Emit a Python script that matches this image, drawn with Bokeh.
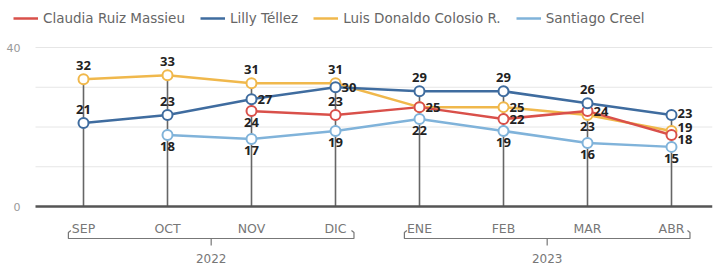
from bokeh.plotting import figure
from bokeh.models import Legend, LegendItem
from bokeh.core.properties import value
from bokeh.embed import file_html
from bokeh.resources import INLINE

# ---------------- data ----------------
months = ["SEP", "OCT", "NOV", "DIC", "ENE", "FEB", "MAR", "ABR"]
years = ["2022", "2023"]
year_spans = [(0, 3), (4, 7)]  # month index ranges per year

claudia = [None, None, 24, 23, 25, 22, 24, 18]
lilly = [21, 23, 27, 30, 29, 29, 26, 23]
colosio = [32, 33, 31, 31, 25, 25, 23, 19]
creel = [None, 18, 17, 19, 22, 19, 16, 15]

series_names = ["Claudia Ruiz Massieu", "Lilly Téllez", "Luis Donaldo Colosio R.", "Santiago Creel"]
y_ticks = [0, 10, 20, 30, 40]
y_tick_labels = ["0", "", "", "", "40"]

# ---------------- styles ----------------
colors = ["#d9504a", "#3f6c9f", "#f0b84c", "#80b3da"]
# label placement per point: 'a' above, 'b' below, 'r' right, None = no label
placements = [
    [None, None, "b", "a", "r", "r", "r", "r"],
    ["a", "a", "r", "r", "a", "a", "a", "r"],
    ["a", "a", "a", "a", None, "r", "b", "r"],
    [None, "b", "b", "b", "b", "b", "b", "b"],
]
# extra pixel nudges (series, index) -> dy in px (positive = up)
nudges = {(0, 7): -5, (2, 7): 3, (1, 7): 2}

PXX = 84.0      # px per month
PXY = 3.975     # px per unit
W, H = 720, 268
RIGHT = 8
X0 = 83         # pixel column of first month
GRID_LEFT = 35  # pixel column where grid starts
Y0 = 206        # pixel row of value 0 in figure
x_start = -X0 / PXX
x_end = x_start + (W - RIGHT) / PXX
x_grid = (GRID_LEFT - X0) / PXX
y_end = Y0 / PXY
y_start = -(H - Y0) / PXY

p = figure(width=W, height=H, output_backend="svg", toolbar_location=None,
           x_range=(x_start, x_end), y_range=(y_start, y_end),
           min_border_left=0, min_border_right=RIGHT, min_border_top=0,
           min_border_bottom=0)
p.outline_line_color = None
p.background_fill_color = "white"
p.xaxis.visible = False
p.yaxis.visible = False
p.xgrid.visible = False
p.ygrid.visible = False

# horizontal grid lines and y tick labels
gy = [t for t in y_ticks if t != 0]
p.segment(x0=[x_grid] * len(gy), y0=gy, x1=[x_end] * len(gy), y1=gy,
          line_color="#e6e6e6", line_width=1)
p.text(x=[x_grid] * len(y_ticks), y=y_ticks, text=y_tick_labels, x_offset=-15,
       text_align="right", text_baseline="middle", text_font=value("DejaVu Sans"),
       text_font_size="11px", text_color="#999999")

# stems from 0 to max value
all_series = [claudia, lilly, colosio, creel]
xs = list(range(len(months)))
tops = [max(v for v in (s[i] for s in all_series) if v is not None) for i in xs]
p.segment(x0=xs, y0=[0] * len(xs), x1=xs, y1=tops, line_color="#666666", line_width=1.6)

# baseline
p.segment(x0=[x_grid], y0=[0], x1=[x_end], y1=[0], line_color="#555555", line_width=2.5)

# series lines (draw order: creel, colosio, claudia, lilly)
renderers = {}
order = [3, 2, 0, 1]
for k in order:
    vals = all_series[k]
    px = [i for i in xs if vals[i] is not None]
    py = [vals[i] for i in px]
    r = p.line(px, py, line_color=colors[k], line_width=2.5)
    renderers[k] = r
for k in order:
    vals = all_series[k]
    px = [i for i in xs if vals[i] is not None]
    py = [vals[i] for i in px]
    p.scatter(px, py, size=10, fill_color="white", line_color=colors[k], line_width=2)

# data labels
for k in range(4):
    vals = all_series[k]
    for plc, dx, dy, align, base in (("a", 0, 9, "center", "bottom"),
                                    ("b", 0, -7, "center", "top"),
                                    ("r", 6, 0, "left", "middle")):
        lx = [i for i in xs if vals[i] is not None and placements[k][i] == plc]
        if not lx:
            continue
        ly = [vals[i] for i in lx]
        lt = [str(vals[i]) for i in lx]
        yo = [-(dy + nudges.get((k, i), 0)) for i in lx]
        p.text(x=lx, y=ly, text=lt, x_offset=dx, y_offset=yo,
               text_align=align, text_baseline=base,
               text_font=value("Open Sans"), text_font_style="bold",
               text_font_size="13px", text_color="#222222")

# month labels
p.text(x=xs, y=[-22 / PXY] * len(xs), text=months, text_align="center",
       text_baseline="middle", text_font=value("DejaVu Sans"), text_font_size="12.5px",
       text_color="#777777")

# year brackets
for (a, b), yr in zip(year_spans, years):
    xl = a - 0.18
    xr = b + 0.22
    xc = (xl + xr) / 2
    yt = -24 / PXY
    yb = -32 / PXY
    p.line([xl + 0.03, xl, xl, xr, xr, xr - 0.03],
           [yt, yt - 2 / PXY, yb, yb, yt - 2 / PXY, yt],
           line_color="#777777", line_width=1.2)
    p.segment(x0=[xc], y0=[yb], x1=[xc], y1=[yb - 7 / PXY], line_color="#777777", line_width=1.2)
    p.text(x=[xc], y=[-52 / PXY], text=[yr], text_align="center", text_baseline="middle",
           text_font=value("DejaVu Sans"), text_font_size="12px", text_color="#777777")

# legend
items = [LegendItem(label=series_names[k], renderers=[renderers[k]]) for k in range(4)]
legend = Legend(items=items, orientation="horizontal",
                glyph_width=25, glyph_height=10, label_standoff=5, spacing=15,
                padding=0, margin=0, border_line_color=None,
                background_fill_alpha=0,
                label_text_font="DejaVu Sans", label_text_font_size="13.5px",
                label_text_color="#666666")
legend.location = (13, H - 26)
p.add_layout(legend)

open("out.html", "w").write(file_html(p, INLINE))
